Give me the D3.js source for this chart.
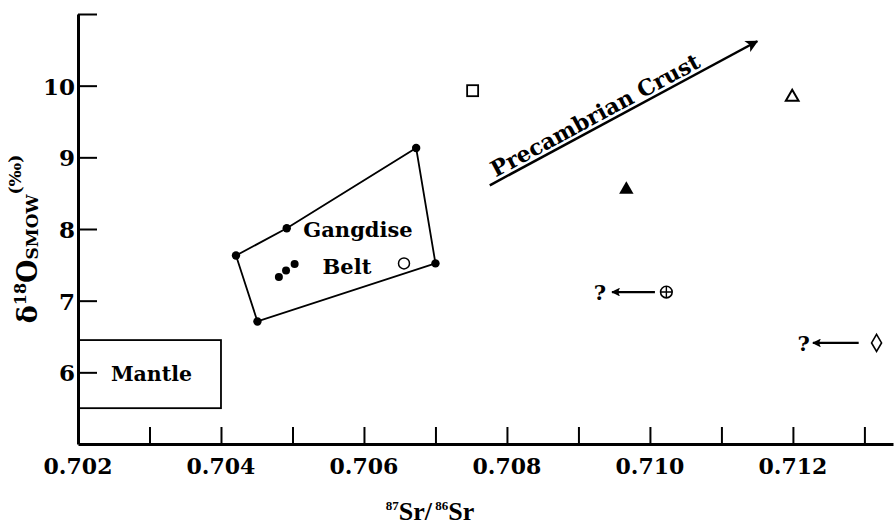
<!DOCTYPE html>
<html>
<head>
<meta charset="utf-8">
<script src="https://cdn.jsdelivr.net/npm/d3@7"></script>
<style>
  html, body { margin: 0; padding: 0; background: #fff; }
  svg { display: block; }
  text { font-family: "DejaVu Serif", serif; font-weight: bold; fill: #000; }
</style>
</head>
<body>
<svg id="chart" width="895" height="526"></svg>
<script>
// ---- data ----
const xLabelTicks = [0.702, 0.704, 0.706, 0.708, 0.710, 0.712];
const xMinorTicks = [0.703, 0.704, 0.705, 0.706, 0.707, 0.708, 0.709, 0.710, 0.711, 0.712, 0.713];
const yTicks = [6, 7, 8, 9, 10, 11];
const yLabelTicks = [6, 7, 8, 9, 10];

// Gangdise Belt polygon vertices (filled dots)
const gangdiseSr = [0.70421, 0.70492, 0.70673, 0.70700, 0.70451];
const gangdiseO  = [7.63, 8.01, 9.13, 7.52, 6.71];
// interior filled dots
const clusterSr = [0.70481, 0.70491, 0.70503];
const clusterO  = [7.33, 7.42, 7.51];
// open circle
const openCircleSr = [0.70656];
const openCircleO  = [7.52];
// open square
const squareSr = [0.70752];
const squareO  = [9.93];
// filled triangle
const filledTriSr = [0.70967];
const filledTriO  = [8.55];
// open triangle
const openTriSr = [0.71199];
const openTriO  = [9.84];
// circle-plus with arrow to "?"
const circlePlusSr = [0.71023];
const circlePlusO  = [7.12];
const circlePlusArrowSr = [0.71007, 0.70947];
const circlePlusQSr = [0.70930];
// diamond with arrow to "?"
const diamondSr = [0.71317];
const diamondO  = [6.41];
const diamondArrowSr = [0.71292, 0.71228];
const diamondQSr = [0.71215];
// Mantle box
const mantleSr = [0.702, 0.704];
const mantleO  = [5.5, 6.45];
// Precambrian Crust arrow
const crustArrowSr = [0.70776, 0.71150];
const crustArrowO  = [8.61, 10.62];

// ---- scales ----
const svg = d3.select("#chart");
const x = d3.scaleLinear().domain([0.702, 0.7134]).range([78, 893]);
const y = d3.scaleLinear().domain([5, 11]).range([444, 14]);

// defs: arrowheads
const defs = svg.append("defs");
defs.append("marker").attr("id", "ah").attr("viewBox", "0 0 10 10")
  .attr("refX", 9).attr("refY", 5).attr("markerWidth", 6).attr("markerHeight", 5)
  .attr("markerUnits", "strokeWidth").attr("orient", "auto")
  .append("path").attr("d", "M0,0 L10,5 L0,10 L2.5,5 Z").attr("fill", "#000");
defs.append("marker").attr("id", "ah2").attr("viewBox", "0 0 10 10")
  .attr("refX", 9).attr("refY", 5).attr("markerWidth", 7).attr("markerHeight", 4)
  .attr("markerUnits", "strokeWidth").attr("orient", "auto")
  .append("path").attr("d", "M0,0 L10,5 L0,10 L2,5 Z").attr("fill", "#000");

// ---- axes ----
const xAxis = svg.append("g").attr("transform", `translate(0,${y(5)})`)
  .call(d3.axisBottom(x).tickValues(xMinorTicks).tickSizeInner(-17).tickSizeOuter(0).tickFormat(""));
xAxis.select(".domain").attr("stroke-width", 3).attr("stroke", "#000");
xAxis.selectAll(".tick line").attr("stroke-width", 2).attr("stroke", "#000");

const yAxis = svg.append("g").attr("transform", `translate(${x(0.702)},0)`)
  .call(d3.axisLeft(y).tickValues(yTicks).tickSizeInner(-19).tickSizeOuter(0).tickFormat(""));
yAxis.select(".domain").attr("stroke-width", 3).attr("stroke", "#000");
yAxis.selectAll(".tick line").attr("stroke-width", 2).attr("stroke", "#000");

// tick labels
svg.append("g").selectAll("text").data(xLabelTicks).join("text")
  .attr("x", d => x(d)).attr("y", 474)
  .attr("text-anchor", "middle").style("font-size", "22px")
  .text(d => d3.format(".3f")(d));
svg.append("g").selectAll("text").data(yLabelTicks).join("text")
  .attr("x", 75).attr("y", d => y(d) + 9)
  .attr("text-anchor", "end").style("font-size", "23px")
  .text(d => d);

// axis titles
const xt = svg.append("text").attr("x", 430).attr("y", 520).attr("text-anchor", "middle")
  .style("font-family", "'Liberation Serif', serif").style("font-size", "26px");
xt.append("tspan").text("87").style("font-size", "13px").attr("dy", -10);
xt.append("tspan").text("Sr/").attr("dy", 10);
xt.append("tspan").text(" 86").style("font-size", "13px").attr("dy", -10);
xt.append("tspan").text("Sr").attr("dy", 10);

const yt = svg.append("text").attr("transform", "translate(37,239) rotate(-90)")
  .attr("text-anchor", "middle").style("font-size", "27px");
yt.append("tspan").text("δ");
yt.append("tspan").text("18").style("font-size", "16px").attr("dy", -11);
yt.append("tspan").text("O").attr("dy", 11);
yt.append("tspan").text("SMOW").style("font-size", "17px").attr("dy", 1);
yt.append("tspan").text("(‰)").style("font-size", "17px").attr("dy", -17);

// ---- Mantle box ----
svg.append("rect")
  .attr("x", x(mantleSr[0])).attr("y", y(mantleO[1]))
  .attr("width", x(mantleSr[1]) - x(mantleSr[0]))
  .attr("height", y(mantleO[0]) - y(mantleO[1]))
  .attr("fill", "none").attr("stroke", "#000").attr("stroke-width", 1.8);
svg.append("text").attr("x", (x(mantleSr[0]) + x(mantleSr[1])) / 2 + 2)
  .attr("y", (y(mantleO[0]) + y(mantleO[1])) / 2 + 7)
  .attr("text-anchor", "middle").style("font-size", "20.5px").text("Mantle");

// ---- Gangdise polygon ----
const poly = gangdiseSr.map((d, i) => [x(d), y(gangdiseO[i])]);
svg.append("path").attr("d", d3.line()(poly) + "Z")
  .attr("fill", "none").attr("stroke", "#000").attr("stroke-width", 1.8);
svg.append("g").selectAll("circle").data(gangdiseSr).join("circle")
  .attr("cx", d => x(d)).attr("cy", (d, i) => y(gangdiseO[i])).attr("r", 4.2).attr("fill", "#000");
svg.append("g").selectAll("circle").data(clusterSr).join("circle")
  .attr("cx", d => x(d)).attr("cy", (d, i) => y(clusterO[i])).attr("r", 4).attr("fill", "#000");
svg.append("g").selectAll("circle").data(openCircleSr).join("circle")
  .attr("cx", d => x(d)).attr("cy", (d, i) => y(openCircleO[i])).attr("r", 5.5)
  .attr("fill", "#fff").attr("stroke", "#000").attr("stroke-width", 1.5);
svg.append("text").attr("x", 358).attr("y", 237).attr("text-anchor", "middle")
  .style("font-size", "21px").text("Gangdise");
svg.append("text").attr("x", 347).attr("y", 274).attr("text-anchor", "middle")
  .style("font-size", "21px").text("Belt");

// ---- other symbols ----
svg.append("g").selectAll("rect").data(squareSr).join("rect")
  .attr("x", d => x(d) - 5.5).attr("y", (d, i) => y(squareO[i]) - 5.5)
  .attr("width", 11).attr("height", 11)
  .attr("fill", "#fff").attr("stroke", "#000").attr("stroke-width", 1.8);

const tri = d3.symbol().type(d3.symbolTriangle).size(90);
svg.append("g").selectAll("path").data(filledTriSr).join("path")
  .attr("transform", (d, i) => `translate(${x(d)},${y(filledTriO[i])})`)
  .attr("d", tri).attr("fill", "#000");
svg.append("g").selectAll("path").data(openTriSr).join("path")
  .attr("transform", (d, i) => `translate(${x(d)},${y(openTriO[i])})`)
  .attr("d", d3.symbol().type(d3.symbolTriangle).size(70))
  .attr("fill", "#fff").attr("stroke", "#000").attr("stroke-width", 2);

// circle-plus
const cp = svg.append("g").selectAll("g").data(circlePlusSr).join("g")
  .attr("transform", (d, i) => `translate(${x(d)},${y(circlePlusO[i])})`);
cp.append("circle").attr("r", 5.8).attr("fill", "#fff").attr("stroke", "#000").attr("stroke-width", 1.6);
cp.append("path").attr("d", "M-5.8,0H5.8M0,-5.8V5.8").attr("stroke", "#000").attr("stroke-width", 1.4);
svg.append("line")
  .attr("x1", x(circlePlusArrowSr[0])).attr("x2", x(circlePlusArrowSr[1]))
  .attr("y1", y(circlePlusO[0])).attr("y2", y(circlePlusO[0]))
  .attr("stroke", "#000").attr("stroke-width", 2.2).attr("marker-end", "url(#ah2)");
svg.append("text").attr("x", x(circlePlusQSr[0])).attr("y", y(circlePlusO[0]) + 8)
  .attr("text-anchor", "middle").style("font-size", "21px").text("?");

// diamond
svg.append("g").selectAll("path").data(diamondSr).join("path")
  .attr("transform", (d, i) => `translate(${x(d)},${y(diamondO[i])})`)
  .attr("d", "M0,-8.5L5,0L0,8.5L-5,0Z")
  .attr("fill", "#fff").attr("stroke", "#000").attr("stroke-width", 1.6);
svg.append("line")
  .attr("x1", x(diamondArrowSr[0])).attr("x2", x(diamondArrowSr[1]))
  .attr("y1", y(diamondO[0])).attr("y2", y(diamondO[0]))
  .attr("stroke", "#000").attr("stroke-width", 2.2).attr("marker-end", "url(#ah2)");
svg.append("text").attr("x", x(diamondQSr[0])).attr("y", y(diamondO[0]) + 8)
  .attr("text-anchor", "middle").style("font-size", "21px").text("?");

// ---- Precambrian Crust arrow ----
const ax1 = x(crustArrowSr[0]), ay1 = y(crustArrowO[0]);
const ax2 = x(crustArrowSr[1]), ay2 = y(crustArrowO[1]);
svg.append("line").attr("x1", ax1).attr("y1", ay1).attr("x2", ax2).attr("y2", ay2)
  .attr("stroke", "#000").attr("stroke-width", 2.5).attr("marker-end", "url(#ah)");
const ang = Math.atan2(ay2 - ay1, ax2 - ax1) * 180 / Math.PI;
const along = 126, off = -4;
const rad = ang * Math.PI / 180;
const tx = ax1 + along * Math.cos(rad) + off * -Math.sin(rad);
const ty = ay1 + along * Math.sin(rad) + off * Math.cos(rad);
svg.append("text").attr("transform", `translate(${tx},${ty}) rotate(${ang})`)
  .attr("text-anchor", "middle").style("font-size", "22px").text("Precambrian Crust");
</script>
</body>
</html>
